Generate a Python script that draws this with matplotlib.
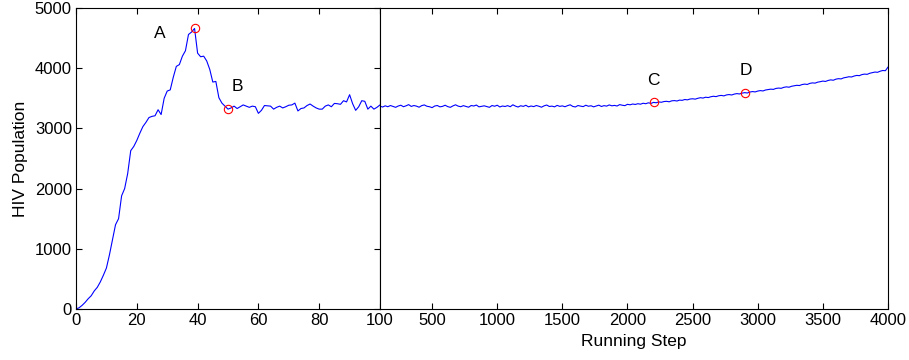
import numpy as np
import matplotlib
matplotlib.use("Agg")
import matplotlib.pyplot as plt

plt.rcParams["font.family"] = ["Liberation Sans", "DejaVu Sans"]

# early phase, one value per running step 0..100
early_steps = list(range(0, 101))
early_pop = [
    0, 20, 60, 110, 170, 220, 300, 360, 450, 560,
    680, 900, 1150, 1400, 1500, 1880, 2000, 2250, 2630, 2700,
    2800, 2920, 3030, 3100, 3180, 3200, 3210, 3310, 3230, 3500,
    3620, 3640, 3850, 4030, 4060, 4200, 4290, 4560, 4600, 4660,
    4250, 4190, 4200, 4120, 3980, 3770, 3780, 3510, 3420, 3370,
    3320, 3340, 3370, 3330, 3360, 3390, 3370, 3350, 3370, 3360,
    3250, 3300, 3380, 3375, 3370, 3320, 3350, 3370, 3340, 3360,
    3385, 3390, 3420, 3290, 3330, 3340, 3380, 3405, 3370, 3340,
    3320, 3320, 3370, 3390, 3360, 3415, 3410, 3400, 3460, 3440,
    3560, 3410, 3300, 3360, 3460, 3450, 3320, 3370, 3320, 3350,
    3390,
]

# late phase, every 20 steps from 100 to 4000
late_steps = list(range(100, 4001, 20))
late_pop = [
    3370, 3355, 3375, 3360, 3380, 3365, 3350, 3372, 3385, 3360,
    3375, 3395, 3365, 3380, 3370, 3352, 3378, 3390, 3368, 3360,
    3345, 3372, 3380, 3358, 3366, 3385, 3362, 3350, 3374, 3392,
    3370, 3360, 3378, 3365, 3352, 3380, 3372, 3388, 3358, 3366,
    3375, 3362, 3350, 3380, 3368, 3385, 3356, 3372, 3364, 3378,
    3360, 3392, 3370, 3355, 3376, 3366, 3384, 3358, 3372, 3362,
    3380, 3368, 3352, 3375, 3388, 3364, 3370, 3358, 3382, 3366,
    3374, 3360, 3378, 3392, 3365, 3356, 3380, 3370, 3362, 3385,
    3368, 3376, 3358, 3372, 3386, 3364, 3378, 3370, 3390, 3375,
    3382, 3372, 3395, 3385, 3378, 3400, 3392, 3405, 3398, 3410,
    3402, 3418, 3410, 3425, 3415, 3432, 3426, 3440, 3434, 3446,
    3450, 3442, 3458, 3462, 3455, 3470, 3466, 3480, 3474, 3488,
    3492, 3486, 3500, 3510, 3504, 3518, 3512, 3526, 3534, 3528,
    3542, 3548, 3540, 3556, 3562, 3555, 3570, 3578, 3572, 3586,
    3594, 3588, 3604, 3612, 3606, 3620, 3628, 3622, 3638, 3645,
    3652, 3648, 3664, 3670, 3666, 3682, 3690, 3684, 3700, 3708,
    3716, 3712, 3728, 3736, 3730, 3748, 3756, 3752, 3768, 3776,
    3786, 3780, 3796, 3806, 3800, 3818, 3826, 3822, 3840, 3848,
    3858, 3854, 3870, 3880, 3876, 3894, 3902, 3898, 3916, 3926,
    3936, 3932, 3950, 3962, 3958, 4018,
]

# marked points A, B (early) and C, D (late)
early_marks_x = [39, 50]
early_marks_y = [4660, 3320]
early_labels = ["A", "B"]
early_label_pos = [(27.5, 4580), (53, 3690)]

late_marks_x = [2200, 2900]
late_marks_y = [3432, 3594]
late_labels = ["C", "D"]
late_label_pos = [(2200, 3800), (2910, 3970)]

fig = plt.figure(figsize=(9.09, 3.6), dpi=100)
ax1 = fig.add_axes([76 / 909, 1 - 309 / 360, 304 / 909, 301 / 360])
ax2 = fig.add_axes([380 / 909, 1 - 309 / 360, 508 / 909, 301 / 360])

ax1.plot(early_steps, early_pop, color="#0000ff", lw=0.8)
ax1.plot(early_marks_x, early_marks_y, "o", mfc="none", mec="red", ms=6, mew=0.8)
for lab, (lx, ly) in zip(early_labels, early_label_pos):
    ax1.text(lx, ly, lab, fontsize=12.5, ha="center", va="center")

ax2.plot(late_steps, late_pop, color="#0000ff", lw=0.8)
ax2.plot(late_marks_x, late_marks_y, "o", mfc="none", mec="red", ms=6, mew=0.8)
for lab, (lx, ly) in zip(late_labels, late_label_pos):
    ax2.text(lx, ly, lab, fontsize=12.5, ha="center", va="center")

ax1.set_xlim(0, 100)
ax1.set_ylim(0, 5000)
ax1.set_xticks(range(0, 101, 20))
ax1.set_yticks(range(0, 5001, 1000))
ax1.tick_params(direction="in", length=4, top=True, right=True, labelsize=12, pad=3)
ax1.set_ylabel("HIV Population", fontsize=12.5, labelpad=5)

ax2.set_xlim(100, 4000)
ax2.set_ylim(0, 5000)
ax2.set_xticks(range(500, 4001, 500))
ax2.set_yticks([])
ax2.tick_params(direction="in", length=4, top=True, labelsize=12, pad=3)
ax2.set_xlabel("Running Step", fontsize=12.5, labelpad=4)

for ax in (ax1, ax2):
    for sp in ax.spines.values():
        sp.set_linewidth(0.8)

fig.savefig("out.png", dpi=100)
